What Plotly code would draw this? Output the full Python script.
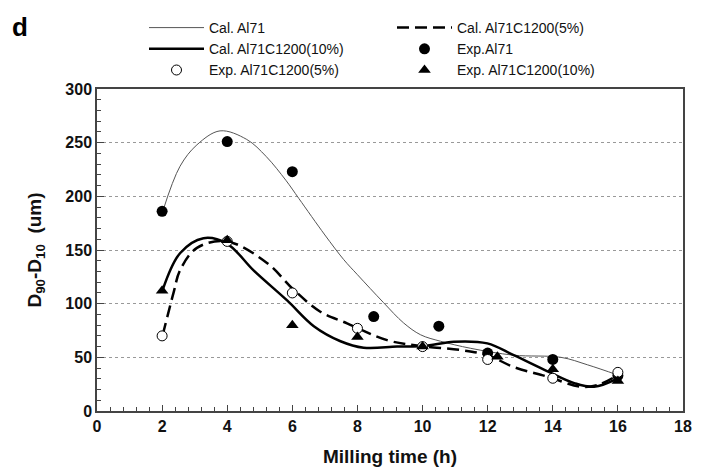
import plotly.graph_objects as go

# ---- data ----
cal_al71_x = [2.02, 2.55, 3.07, 3.78, 4.6, 5.2, 5.8, 6.2, 7.0, 7.58, 8.0, 8.8, 9.42, 9.94, 10.55, 11.48, 12.8, 14.25, 15.07, 16.0]
cal_al71_y = [186, 228, 248, 261, 253, 237, 215, 198, 164, 141, 127, 101, 82, 71, 65, 58.4, 52, 50, 43, 33.5]

cal_5_x = [2.02, 2.35, 2.55, 3.07, 3.99, 5.22, 6.04, 6.86, 7.68, 8.91, 9.94, 11.17, 11.99, 12.8, 13.84, 14.86, 15.38, 16.0]
cal_5_y = [71, 110, 131, 152, 158, 138, 113, 92.5, 81.7, 66, 60.6, 56.8, 52, 41, 32, 22.6, 24.2, 33.5]

cal_10_x = [2.02, 2.55, 3.27, 3.99, 4.81, 5.84, 6.66, 7.48, 8.19, 9.22, 10.04, 10.96, 11.99, 12.8, 13.84, 14.66, 15.27, 16.0]
cal_10_y = [113, 147, 161, 156, 131, 103, 79, 65, 59, 60, 60.5, 64.6, 63, 52, 37, 26, 22.6, 30.5]

exp_al71_x = [2, 4, 6, 8.5, 10.5, 12, 14, 16]
exp_al71_y = [186, 251, 223, 88, 79, 54, 48, 33]

exp_5_x = [2, 4, 6, 8, 10, 12, 14, 16]
exp_5_y = [70, 158, 110, 77, 60, 48, 30.5, 36]

exp_10_x = [2, 4, 6, 8, 10, 12.3, 14, 16]
exp_10_y = [112, 159, 80, 69, 60, 50.5, 39, 28]

names = ["Cal. Al71", "Cal. Al71C1200(5%)", "Cal. Al71C1200(10%)",
         "Exp.Al71", "Exp. Al71C1200(5%)", "Exp. Al71C1200(10%)"]

x_ticks = [0, 2, 4, 6, 8, 10, 12, 14, 16, 18]
y_ticks = [0, 50, 100, 150, 200, 250, 300]

BOLD = "Liberation Sans"
LEG = "Liberation Sans"

# page body has an 8px margin, so the figure is laid out 8px up/left
ML, MT, PW, PH = 89, 81, 586, 322

fig = go.Figure()
fig.add_trace(go.Scatter(x=cal_al71_x, y=cal_al71_y, mode="lines", name=names[0],
                         line=dict(color="#555555", width=1, shape="spline", smoothing=1.0)))
fig.add_trace(go.Scatter(x=cal_5_x, y=cal_5_y, mode="lines", name=names[1],
                         line=dict(color="#000000", width=2.5, dash="12px,6px", shape="spline", smoothing=1.0)))
fig.add_trace(go.Scatter(x=cal_10_x, y=cal_10_y, mode="lines", name=names[2],
                         line=dict(color="#000000", width=2.5, shape="spline", smoothing=1.0)))
fig.add_trace(go.Scatter(x=exp_al71_x, y=exp_al71_y, mode="markers", name=names[3],
                         marker=dict(symbol="circle", size=11, color="#000000")))
fig.add_trace(go.Scatter(x=exp_5_x, y=exp_5_y, mode="markers", name=names[4],
                         marker=dict(symbol="circle", size=10, color="#ffffff",
                                     line=dict(color="#000000", width=1))))
fig.add_trace(go.Scatter(x=exp_10_x, y=exp_10_y, mode="markers", name=names[5],
                         marker=dict(symbol="triangle-up", size=11, color="#000000")))

axis_common = dict(showline=True, linecolor="#444444", linewidth=1.5, mirror=True,
                   ticks="inside", tickcolor="#444444", zeroline=False, automargin=False,
                   tickfont=dict(family=BOLD, size=16, color="#111111", weight="bold"))

fig.update_xaxes(range=[0, 18], tickmode="array", tickvals=x_ticks, ticklen=6,
                 showgrid=False,
                 minor=dict(dtick=0.4, ticks="inside", ticklen=4, tickcolor="#444444", showgrid=False),
                 title=dict(text="Milling time (h)", standoff=16,
                            font=dict(family=BOLD, size=19, color="#111111", weight="bold")),
                 **axis_common)
fig.update_yaxes(range=[0, 300], tickmode="array", tickvals=y_ticks, ticklen=7,
                 showgrid=True, gridcolor="#999999", griddash="dot", gridwidth=1,
                 minor=dict(dtick=10, ticks="inside", ticklen=4, tickcolor="#444444", showgrid=False),
                 title=dict(text="D<sub>90</sub>-D<sub>10</sub>\u00a0\u00a0(um)", standoff=19,
                            font=dict(family=BOLD, size=19, color="#111111", weight="bold")),
                 **axis_common)

fig.add_annotation(text="<b>d</b>", xref="paper", yref="paper",
                   x=(12 - ML) / PW, y=1 + (MT - 19.5) / PH,
                   xanchor="center", yanchor="middle", showarrow=False,
                   font=dict(family=BOLD, size=26, color="#000000"))

fig.update_layout(
    width=701, height=461,
    margin=dict(l=ML, r=701 - ML - PW, t=MT, b=461 - MT - PH, autoexpand=False),
    paper_bgcolor="#ffffff", plot_bgcolor="#ffffff",
    showlegend=True,
    legend=dict(orientation="h", x=(136 - ML) / PW, xanchor="left",
                y=1 + (MT - 4) / PH, yanchor="top",
                entrywidth=178, entrywidthmode="pixels", itemwidth=55,
                bgcolor="rgba(0,0,0,0)", borderwidth=0,
                font=dict(family=LEG, size=14, color="#111111"),
                traceorder="normal"),
)

fig.write_html("out.html")
